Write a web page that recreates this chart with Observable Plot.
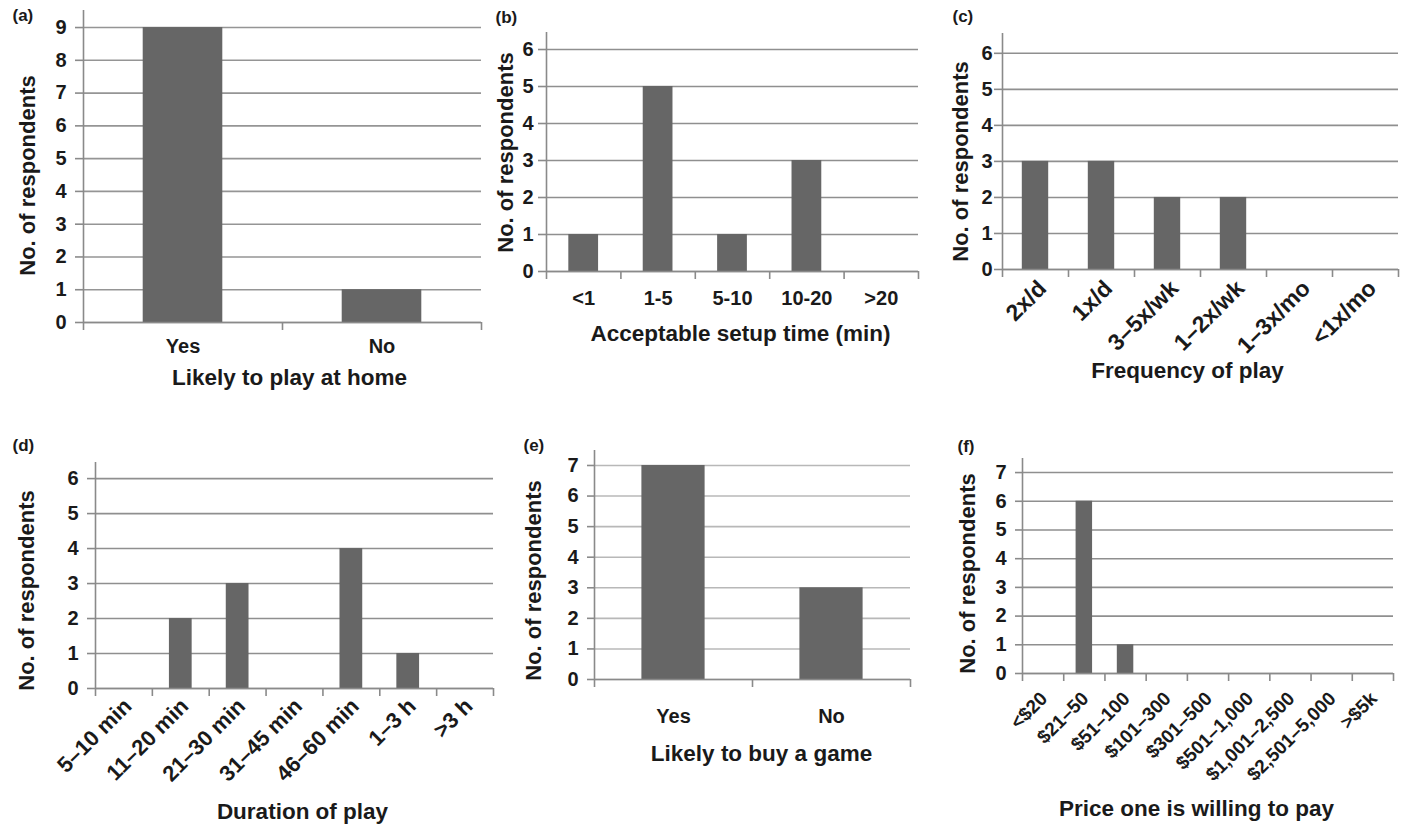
<!DOCTYPE html>
<html><head><meta charset="utf-8">
<script src="https://cdn.jsdelivr.net/npm/d3@7"></script>
<script src="https://cdn.jsdelivr.net/npm/@observablehq/plot@0.6"></script>
<style>
html,body{margin:0;padding:0;background:#fff;overflow:hidden}
#page{position:relative;width:1406px;height:825px;overflow:hidden;background:#fff}
#page svg{position:absolute}
</style></head><body><div id="page"></div>
<script>
// ---- data ----
const homeCategories = ["Yes", "No"];
const homeCounts = [9, 1];
const setupCategories = ["<1", "1-5", "5-10", "10-20", ">20"];
const setupCounts = [1, 5, 1, 3, 0];
const frequencyCategories = ["2x/d", "1x/d", "3–5x/wk", "1–2x/wk", "1–3x/mo", "<1x/mo"];
const frequencyCounts = [3, 3, 2, 2, 0, 0];
const durationCategories = ["5–10 min", "11–20 min", "21–30 min", "31–45 min", "46–60 min", "1–3 h", ">3 h"];
const durationCounts = [0, 2, 3, 0, 4, 1, 0];
const buyCategories = ["Yes", "No"];
const buyCounts = [7, 3];
const priceCategories = ["<$20", "$21–50", "$51–100", "$101–300", "$301–500", "$501–1,000", "$1,001–2,500", "$2,501–5,000", ">$5k"];
const priceCounts = [0, 6, 1, 0, 0, 0, 0, 0, 0];
const yTitle = "No. of respondents";
const xTitles = ["Likely to play at home", "Acceptable setup time (min)", "Frequency of play", "Duration of play", "Likely to buy a game", "Price one is willing to pay"];
const panelLetters = ["(a)", "(b)", "(c)", "(d)", "(e)", "(f)"];
const yTickMax = [9, 6, 6, 6, 7, 7];

// ---- layout ----
const FONT = '"Liberation Sans", Arial, Helvetica, sans-serif';
const TEXT = "#1a1a1a";
const AXIS = "#8a8a8a";
const BAR = "#666666";

const panels = [
  {cats: homeCategories, vals: homeCounts, ymax: 9.52, L: 83, R: 481, T: 10, B: 322, grid: "#959595",
   yT: [27, 175], xT: [289, 377], lt: [12, 15], pad: 16, rot: 0, lsize: 20, ytick: 8, ypad: 9},
  {cats: setupCategories, vals: setupCounts, ymax: 6.46, L: 546, R: 918, T: 32, B: 271, grid: "#8f8f8f",
   yT: [505, 152], xT: [740, 333], lt: [495, 17], pad: 19, rot: 0, lsize: 20, ytick: 8, ypad: 5},
  {cats: frequencyCategories, vals: frequencyCounts, ymax: 6.55, L: 1002, R: 1398, T: 33, B: 269, grid: "#8f8f8f",
   yT: [960, 161], xT: [1187, 370], lt: [952, 16], rot: -45, rdx: 7, rdy: 15, lsize: 23, ytick: 8, ypad: 2},
  {cats: durationCategories, vals: durationCounts, ymax: 6.46, L: 95, R: 493, T: 462, B: 688, grid: "#8f8f8f",
   yT: [26, 590], xT: [302, 811], lt: [12, 445], rot: -45, rdx: 4, rdy: 14, lsize: 22, ytick: 8, ypad: 9},
  {cats: buyCategories, vals: buyCounts, ymax: 7.49, L: 594, R: 910, T: 450, B: 679, grid: "#b8b8b8",
   yT: [533, 580], xT: [761, 753], lt: [523, 445], pad: 29, rot: 0, lsize: 20, ytick: 7, ypad: 9},
  {cats: priceCategories, vals: priceCounts, ymax: 7.49, L: 1022, R: 1393, T: 458, B: 673, grid: "#8f8f8f",
   yT: [967, 573], xT: [1196, 808], lt: [957, 446], rot: -45, rdx: 1, rdy: 22, lsize: 19, ytick: 7, ypad: 9}
];

const page = document.getElementById("page");

panels.forEach((p, k) => {
  const n = p.cats.length;
  const data = p.cats.map((c, i) => ({c, i, v: p.vals[i]}));
  const mL = 100, mR = 14, mT = 40, mB = 170;
  const W = p.R - p.L, H = p.B - p.T;
  const inset = (W / n) * 0.3;
  const ticks = d3.range(0, yTickMax[k] + 1);
  const cx = (p.L + p.R) / 2, cy = (p.T + p.B) / 2;

  const labelMark = p.rot
    ? Plot.text(data, {x: d => d.i + 0.5, text: "c", frameAnchor: "bottom", rotate: p.rot,
        textAnchor: "end", lineAnchor: "middle", dx: p.rdx, dy: p.rdy,
        fontSize: p.lsize, fontWeight: "bold", fill: TEXT})
    : Plot.text(data, {x: d => d.i + 0.5, text: "c", frameAnchor: "bottom",
        textAnchor: "middle", lineAnchor: "top", dy: p.pad,
        fontSize: p.lsize, fontWeight: "bold", fill: TEXT});

  const svg = Plot.plot({
    width: W + mL + mR, height: H + mT + mB,
    marginLeft: mL, marginRight: mR, marginTop: mT, marginBottom: mB,
    x: {type: "linear", domain: [0, n], axis: null},
    y: {domain: [0, p.ymax], axis: null, label: null},
    style: {background: "transparent", overflow: "visible", fontFamily: FONT, fontWeight: "bold", maxWidth: "none"},
    marks: [
      Plot.gridY(ticks, {stroke: p.grid, strokeOpacity: 1, strokeWidth: 1.6}),
      Plot.rect(data, {x1: "i", x2: d => d.i + 1, y1: 0, y2: "v", insetLeft: inset, insetRight: inset, fill: BAR}),
      Plot.ruleX([0], {stroke: AXIS, strokeWidth: 1.6}),
      Plot.ruleY([0], {stroke: AXIS, strokeWidth: 1.6}),
      Plot.axisY(ticks, {tickSize: p.ytick, tickPadding: p.ypad, stroke: AXIS, strokeWidth: 1.6, fill: TEXT,
        fontSize: 20, fontWeight: "bold", label: null}),
      Plot.axisX(d3.range(n + 1), {tickSize: 8, tickFormat: () => "", stroke: AXIS, strokeWidth: 1.6, label: null}),
      labelMark,
      Plot.text([yTitle], {frameAnchor: "left", rotate: -90, textAnchor: "middle", lineAnchor: "middle",
        dx: p.yT[0] - p.L, dy: p.yT[1] - cy, fontSize: 22, fontWeight: "bold", fill: TEXT}),
      Plot.text([xTitles[k]], {frameAnchor: "bottom", textAnchor: "middle", lineAnchor: "middle",
        dx: p.xT[0] - cx, dy: p.xT[1] - p.B, fontSize: 22.5, fontWeight: "bold", fill: TEXT}),
      Plot.text([panelLetters[k]], {frameAnchor: "top-left", textAnchor: "start", lineAnchor: "middle",
        dx: p.lt[0] - p.L, dy: p.lt[1] - p.T, fontSize: 17, fontWeight: "bold", fill: TEXT})
    ]
  });
  svg.style.left = (p.L - mL) + "px";
  svg.style.top = (p.T - mT) + "px";
  page.appendChild(svg);
});
</script>
</body></html>
